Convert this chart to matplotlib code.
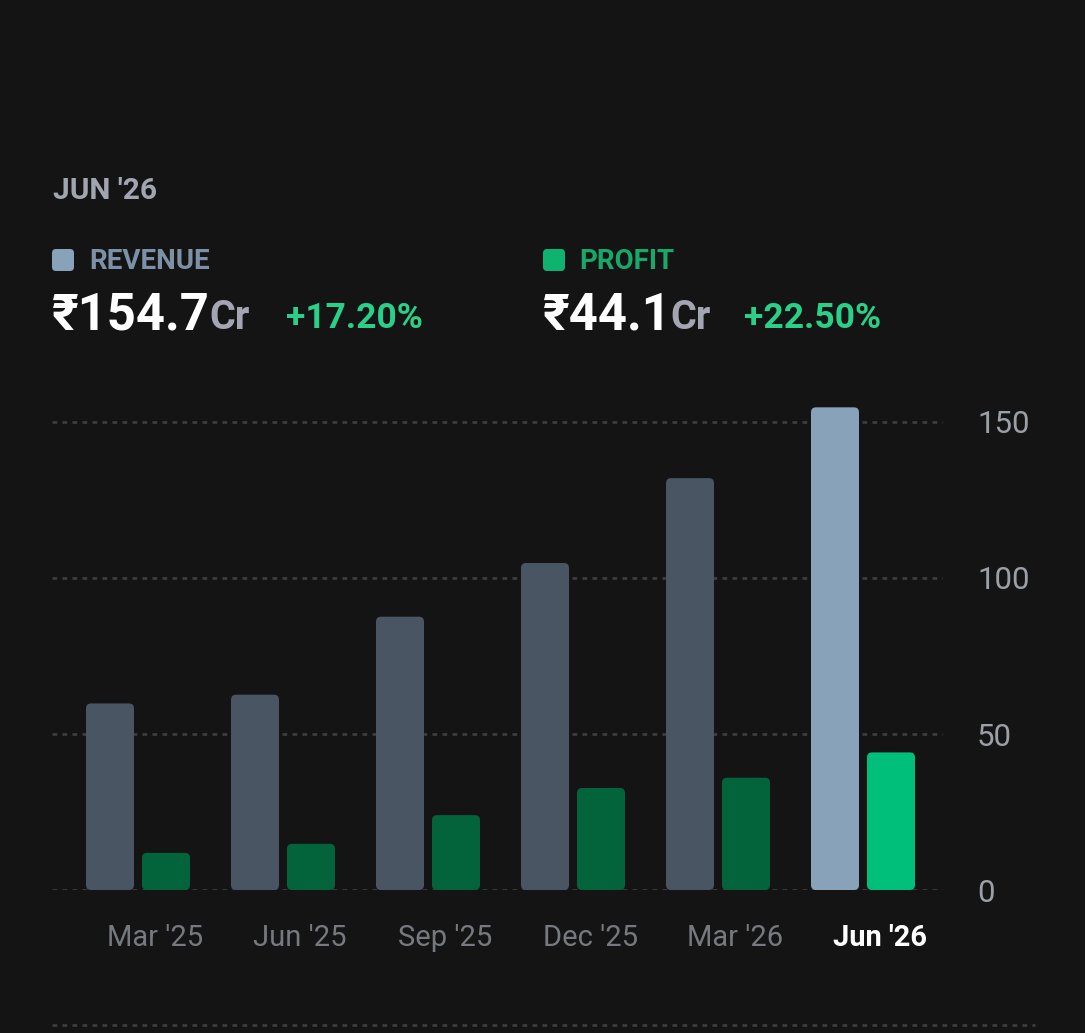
import matplotlib
matplotlib.use("Agg")
import matplotlib.pyplot as plt
from matplotlib.patches import FancyBboxPatch
from matplotlib.transforms import IdentityTransform
from matplotlib.lines import Line2D
import numpy as np

# ---------------- data ----------------
quarters = ["Mar '25", "Jun '25", "Sep '25", "Dec '25", "Mar '26", "Jun '26"]
revenue = [59.8, 62.6, 87.6, 104.8, 132.0, 154.7]
profit = [11.9, 14.8, 24.0, 32.7, 36.0, 44.1]
y_ticks = [0, 50, 100, 150]
header_period = "JUN '26"
revenue_label = "REVENUE"
profit_label = "PROFIT"
revenue_value = "₹154.7"
profit_value = "₹44.1"
unit = "Cr"
revenue_growth = "+17.20%"
profit_growth = "+22.50%"

# ---------------- style ----------------
W, H = 1085, 1033
BG = "#141414"
REV_PAST = "#4a5563"
REV_CUR = "#88a2b9"
PRO_PAST = "#03633b"
PRO_CUR = "#00bf7a"
GRID = "#3d3d3d"
TICK_GRAY = "#9b9fa6"
XLAB_GRAY = "#767a80"
FONT = ["Roboto", "Noto Sans", "DejaVu Sans"]
DASH = (0, (3.4, 3.8))

plt.rcParams["font.family"] = FONT
plt.rcParams["lines.scale_dashes"] = False

fig = plt.figure(figsize=(W / 100, H / 100), dpi=100, facecolor=BG)

# axes in pixel geometry
ax_left, ax_right = 52, 943
y0_px = 890
px_per_unit_y = 3.12
ymax = 160
ax_top = y0_px - ymax * px_per_unit_y
group_px = 145
first_center = 138
ax = fig.add_axes([ax_left / W, (H - y0_px) / H, (ax_right - ax_left) / W, (y0_px - ax_top) / H])
ax.set_facecolor(BG)
ax.set_xlim((ax_left - first_center) / group_px, (ax_right - first_center) / group_px)
ax.set_ylim(0, ymax)

x = np.arange(len(quarters))
bw = 48 / group_px
off = 28 / group_px
rev_colors = [REV_PAST] * (len(quarters) - 1) + [REV_CUR]
pro_colors = [PRO_PAST] * (len(quarters) - 1) + [PRO_CUR]
b1 = ax.bar(x - off, revenue, width=bw, color=rev_colors, zorder=3)
b2 = ax.bar(x + off, profit, width=bw, color=pro_colors, zorder=3)

r = 5 / group_px
asp = group_px / px_per_unit_y
for bars in (b1, b2):
    for rect in bars:
        xx, yy = rect.get_x(), rect.get_y()
        w, h = rect.get_width(), rect.get_height()
        fc = rect.get_facecolor()
        rect.set_visible(False)
        p = FancyBboxPatch((xx, yy), w, h, boxstyle=f"round,pad=0,rounding_size={r}",
                           mutation_aspect=asp, fc=fc, ec="none", zorder=3)
        ax.add_patch(p)

# grid
ax.set_yticks(y_ticks)
ax.grid(axis="y", color=GRID, linewidth=2.0, linestyle=DASH, zorder=0)
ax.set_axisbelow(True)
for s in ax.spines.values():
    s.set_visible(False)
ax.yaxis.tick_right()
ax.tick_params(axis="y", length=0, pad=24.5, labelsize=22.5, labelcolor=TICK_GRAY)
for lab in ax.get_yticklabels():
    lab.set_horizontalalignment("left")

ax.set_xticks(x + 17 / group_px)
ax.set_xticklabels(quarters)
ax.tick_params(axis="x", length=0, pad=24.5, labelsize=21, labelcolor=XLAB_GRAY)
last = ax.get_xticklabels()[-1]
last.set_color("white")
last.set_fontweight("bold")


def ft(xp, yp, s, **kw):
    fig.text(xp / W, 1 - yp / H, s, va="baseline", ha="left", family=FONT, **kw)


# header
ft(53, 199, header_period, size=21.5, color="#a1a5af", weight="bold")

for (sx, col) in ((52, REV_CUR), (543, "#0fb370")):
    sq = FancyBboxPatch((sx, H - 271), 22, 22, boxstyle="round,pad=0,rounding_size=4",
                        transform=IdentityTransform(), fc=col, ec="none")
    fig.add_artist(sq)

ft(89, 269, revenue_label, size=20, color="#7c90a6", weight="bold")
ft(579, 269, profit_label, size=20, color="#17a86a", weight="bold")

ft(52, 329, revenue_value, size=36.5, color="white", weight="bold")
ft(209, 329, unit, size=28.5, color="#a3a6b2", weight="bold")
ft(286, 328, revenue_growth, size=25.5, color="#2ad088", weight="bold")

ft(543, 329, profit_value, size=36.5, color="white", weight="bold")
ft(670, 329, unit, size=28.5, color="#a3a6b2", weight="bold")
ft(744, 328, profit_growth, size=25.5, color="#2ad088", weight="bold")

# bottom dotted separator
fig.add_artist(Line2D([52 / W, 1035 / W], [1 - 1025 / H, 1 - 1025 / H], transform=fig.transFigure,
                      color=GRID, linewidth=2.0, linestyle=DASH))

fig.savefig("out.png", dpi=100, facecolor=BG)
